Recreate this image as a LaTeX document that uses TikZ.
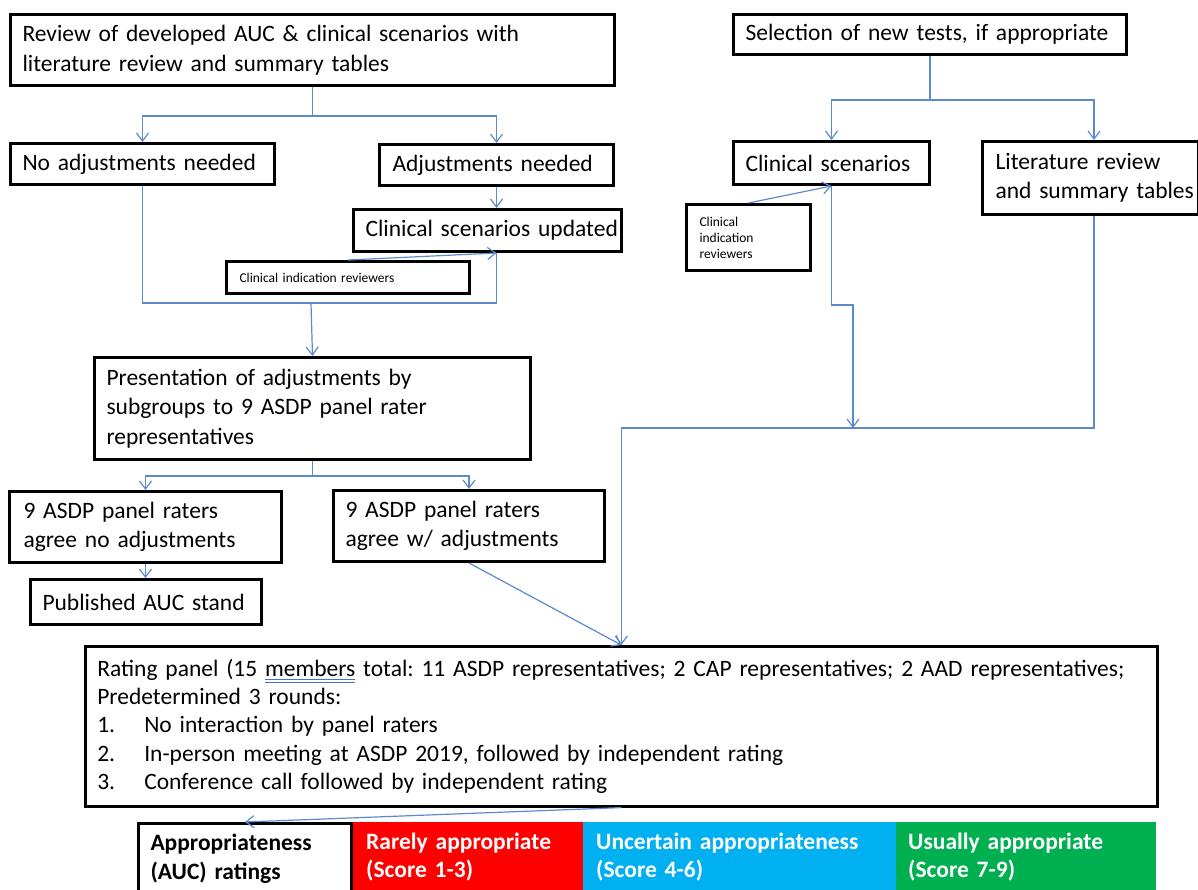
\documentclass[tikz,border=0pt]{standalone}
\usepackage{fontspec}
\setmainfont{Carlito}
\usetikzlibrary{arrows.meta}
\definecolor{lnblue}{RGB}{91,138,206}
\definecolor{ulblue}{RGB}{68,114,196}
\definecolor{rred}{RGB}{255,0,0}
\definecolor{ublue}{RGB}{0,176,240}
\definecolor{ugreen}{RGB}{0,176,80}
\frenchspacing
\newcommand\dblmark[1]{\setbox0\hbox{#1}\rlap{\textcolor{ulblue}{\rule[-4pt]{\wd0}{1pt}}}\rlap{\textcolor{ulblue}{\rule[-7pt]{\wd0}{1pt}}}\box0\relax}
\begin{document}
\begin{tikzpicture}[x=1pt,y=-1pt,
  box/.style={draw=black, line width=3pt, anchor=north west, align=left, inner ysep=0pt,
    font=\fontsize{23.5}{29.5}\selectfont},
  small/.style={font=\fontsize{13.5}{16}\selectfont},
  score/.style={anchor=north west, align=left, inner ysep=0pt, text=white,
    font=\fontsize{23.5}{28.5}\selectfont\bfseries},
  conn/.style={draw=lnblue, line width=1.2pt},
  arr/.style={conn, -{Straight Barb[length=8pt,width=12pt,line width=1.2pt]}},
]
\useasboundingbox (0,0) rectangle (1198,890);

% left column
\node[box, inner xsep=12pt, text width=580pt, minimum height=71pt] (A) at (9,13)
  {\mbox{Review of developed AUC \& clinical scenarios with}\\\mbox{literature review and summary tables}};
\node[box, inner xsep=12pt, text width=240pt, minimum height=41pt] (N) at (9,142)
  {\mbox{No adjustments needed}};
\node[box, inner xsep=13pt, text width=208pt, minimum height=41pt] (J) at (378,143)
  {\mbox{Adjustments needed}};
\node[box, inner xsep=12pt, text width=244pt, minimum height=42pt] (U) at (352,208)
  {\mbox{Clinical scenarios updated}};
\node[box, small, inner xsep=13pt, text width=217pt, minimum height=32pt] (R1) at (225,260)
  {\mbox{Clinical indication reviewers}};
\node[box, inner xsep=12pt, text width=412pt, minimum height=102pt] (P) at (93,356)
  {\mbox{Presentation of adjustments by}\\\mbox{subgroups to 9 ASDP panel rater}\\\mbox{representatives}};
\node[box, inner xsep=14pt, text width=244pt, minimum height=71pt] (G1) at (8,490)
  {\mbox{9 ASDP panel raters}\\\mbox{agree no adjustments}};
\node[box, inner xsep=12pt, text width=247pt, minimum height=71pt] (G2) at (332,489)
  {\mbox{9 ASDP panel raters}\\\mbox{agree w/ adjustments}};
\node[box, inner xsep=12pt, text width=207pt, minimum height=45pt] (B) at (29,578)
  {\mbox{Published AUC stand}};

% right column
\node[box, inner xsep=12pt, text width=369pt, minimum height=40pt] (S) at (732,13)
  {\mbox{Selection of new tests, if appropriate}};
\node[box, inner xsep=12pt, text width=172pt, minimum height=43pt] (C) at (732,140)
  {\mbox{Clinical scenarios}};
\node[box, inner xsep=13pt, text width=190pt, minimum height=73pt] (L) at (981,140)
  {\mbox{Literature review}\\\mbox{and summary tables}};
\node[box, small, inner xsep=13pt, text width=98pt, minimum height=66pt] (R2) at (685,203)
  {\mbox{Clinical}\\\mbox{indication}\\\mbox{reviewers}};

% rating panel
\node[box, line width=2.6pt, inner xsep=12pt, text width=1048pt, minimum height=160pt,
  font=\fontsize{23.5}{28.4}\selectfont] (K) at (84,645)
  {\mbox{Rating panel (15 \dblmark{members} total: 11 ASDP representatives; 2 CAP representatives; 2 AAD representatives;}\\
   \mbox{Predetermined 3 rounds:}\\
   \mbox{\makebox[47pt][l]{1.}No interaction by panel raters}\\
   \mbox{\makebox[47pt][l]{2.}In-person meeting at ASDP 2019, followed by independent rating}\\
   \mbox{\makebox[47pt][l]{3.}Conference call followed by independent rating}};

% ratings row
\node[score, fill=rred, inner xsep=16pt, text width=201pt, minimum height=70pt] (Q1) at (350,822)
  {\mbox{Rarely appropriate}\\\mbox{(Score 1-3)}};
\node[score, fill=ublue, inner xsep=13pt, text width=287pt, minimum height=70pt] (Q2) at (583,822)
  {\mbox{Uncertain appropriateness}\\\mbox{(Score 4-6)}};
\node[score, fill=ugreen, inner xsep=12pt, text width=236pt, minimum height=70pt] (Q3) at (896,822)
  {\mbox{Usually appropriate}\\\mbox{(Score 7-9)}};
\node[box, inner xsep=12pt, text width=189pt, minimum height=70pt,
  font=\fontsize{23.5}{28.5}\selectfont\bfseries] (Q0) at (137,822)
  {\mbox{Appropriateness}\\\mbox{(AUC) ratings}};

% connectors, left
\draw[arr] (A.south) -- ++(0,29) -| (N.north);
\draw[arr] (A.south) -- ++(0,29) -| (J.north);
\draw[arr] (J.south) -- (J.south |- U.north);
\coordinate (m1) at (311,303);
\draw[conn] (N.south) |- (m1);
\draw[conn] (J.south |- U.south) |- (m1);
\draw[arr] (R1.north) -- (J.south |- U.south);
\draw[arr] (m1) -- (P.north);
\draw[arr] (P.south) -- ++(0,15) -| (G1.north);
\draw[arr] (P.south) -- ++(0,15) -| (G2.north);
\draw[arr] (G1.south) -- (G1.south |- B.north);
\draw[arr] (G2.south) -- (K.north);

% connectors, right
\coordinate (lx) at (1094,0);
\coordinate (j1) at (853,305);
\coordinate (h1) at (0,428);
\draw[arr] (S.south) -- ++(0,44) -| (C.north);
\draw[arr] (S.south) -- ++(0,44) -| (L.north -| lx);
\draw[arr] (R2.north) -- (C.south);
\draw[arr] (C.south) |- (j1) -- (j1 |- h1);
\draw[arr] (L.south -| lx) |- (K.north |- h1) -- (K.north);
\draw[arr] (K.south) -- (Q0.north);
\end{tikzpicture}
\end{document}
